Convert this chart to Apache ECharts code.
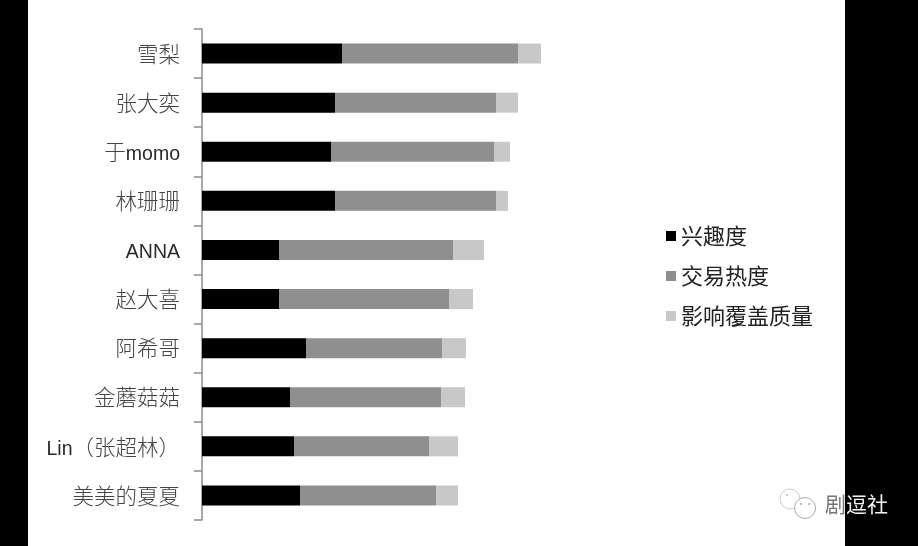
<!DOCTYPE html>
<html><head><meta charset="utf-8">
<style>html,body{margin:0;padding:0;background:#fff}#c{width:918px;height:546px}</style>
<script src="https://cdn.jsdelivr.net/npm/echarts@6/dist/echarts.min.js"></script>
</head><body><div id="c"></div>
<script>
const names = ['雪梨','张大奕','于momo','林珊珊','ANNA','赵大喜','阿希哥','金蘑菇菇','Lin（张超林）','美美的夏夏'];
const seriesNames = ['兴趣度','交易热度','影响覆盖质量'];
const interest = [35,33.25,32.25,33.25,19.25,19.25,26,22,23,24.5];
const trade = [44,40.25,40.75,40.25,43.5,42.5,34,37.75,33.75,34];
const influence = [5.75,5.5,4,3,7.75,6,6,6,7.25,5.5];
const colors = ['#000000','#8f8f8f','#c8c8c8'];
const font = '"Noto Sans CJK SC",sans-serif';
const latin = '"Liberation Sans",sans-serif';
const chart = echarts.init(document.getElementById('c'));
const bar = (name,data,color)=>({name,type:'bar',stack:'t',data,barWidth:20,itemStyle:{color},emphasis:{disabled:true}});
const runs = s => s.replace(/[A-Za-z]+/g,m=>'\u0001'+m+'\u0001').split('\u0001').filter(Boolean)
  .map(p=>/^[A-Za-z]+$/.test(p)?'{l|'+p+'}':'{c|'+p+'}').join('');
chart.setOption({
  animation:false,
  backgroundColor:'#fff',
  grid:{left:202,top:29,width:400,height:491,containLabel:false},
  xAxis:{type:'value',min:0,max:100,show:false},
  yAxis:{type:'category',data:names,inverse:true,
    axisLine:{show:true,lineStyle:{color:'#8c8c8c',width:1.5}},
    axisTick:{show:true,length:8,alignWithLabel:false,lineStyle:{color:'#8c8c8c',width:1.5}},
    axisLabel:{margin:22,formatter:runs,rich:{
      c:{fontSize:21.5,color:'#444',fontFamily:font,fontWeight:300},
      l:{fontSize:19.5,color:'#2a2a2a',fontFamily:latin,padding:[6,0,0,0]}}},
    splitLine:{show:false}},
  legend:{orient:'vertical',left:661,top:220,itemWidth:10,itemHeight:10,itemGap:18,icon:'rect',
    data:seriesNames,textStyle:{fontSize:22,lineHeight:22,color:'#222',fontFamily:font},
    selectedMode:false},
  series:[bar(seriesNames[0],interest,colors[0]),bar(seriesNames[1],trade,colors[1]),bar(seriesNames[2],influence,colors[2])],
  graphic:[
    {type:'rect',shape:{x:0,y:0,width:28,height:546},style:{fill:'#000'},z:100},
    {type:'rect',shape:{x:845,y:0,width:73,height:546},style:{fill:'#000'},z:100},
    {type:'circle',shape:{cx:790,cy:499,r:10},style:{fill:'#fff',stroke:'#ccc',lineWidth:1},z:101},
    {type:'circle',shape:{cx:805,cy:508,r:10.5},style:{fill:'#fff',stroke:'#aaa',lineWidth:1},z:102},
    {type:'circle',shape:{cx:801,cy:504,r:1},style:{fill:'#aaa'},z:103},
    {type:'circle',shape:{cx:809,cy:504,r:1},style:{fill:'#aaa'},z:103},
    {type:'circle',shape:{cx:787,cy:495,r:1},style:{fill:'#bbb'},z:103},
    {type:'text',x:825,y:494,style:{text:'剧',fill:'#777',fontSize:21,fontFamily:font},z:103},
    {type:'text',x:846,y:494,style:{text:'逗社',fill:'#f2f2f2',fontSize:21,fontFamily:font},z:103}
  ]
});
</script></body></html>
